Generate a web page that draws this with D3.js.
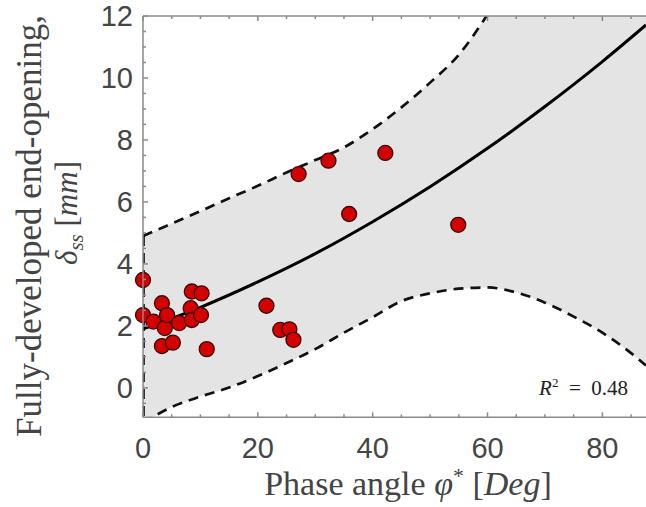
<!DOCTYPE html>
<html><head><meta charset="utf-8">
<script src="https://cdn.jsdelivr.net/npm/d3@7"></script>
<style>body{margin:0;background:#fff}svg{display:block}</style>
</head><body><svg id="c" width="646" height="507"></svg>
<script>
// ---- data ----
const phi   = [0, 0, 1.8, 3.3, 3.8, 4.2, 6.3, 8.3, 8.5, 8.5, 10.1, 10.2, 3.3, 5.2, 11.1, 21.5, 23.9, 25.5, 26.2, 27.1, 32.3, 35.9, 42.2, 54.9];
const delta = [3.48, 2.35, 2.14, 2.73, 1.93, 2.35, 2.09, 2.57, 2.19, 3.11, 2.35, 3.05, 1.35, 1.46, 1.25, 2.65, 1.87, 1.89, 1.55, 6.90, 7.33, 5.61, 7.58, 5.26];
const fitX  = [0, 10, 20, 30, 40, 50, 60, 70, 80, 87.6];
const fitY  = [1.90, 2.60, 3.42, 4.33, 5.36, 6.49, 7.73, 9.08, 10.53, 11.71];
const bandX = [0, 5, 10, 15, 20, 25, 30, 35, 40, 45, 50, 55, 60, 65, 70, 75, 80, 85, 87.6];
const upperY= [4.90, 5.30, 5.70, 6.12, 6.52, 6.95, 7.35, 7.76, 8.35, 9.05, 9.85, 10.75, 12.05, 13.6, 15.4, 17.3, 19.3, 21.5, 22.7];
const lowerY= [-1.13, -0.62, -0.28, 0.01, 0.38, 0.80, 1.25, 1.78, 2.28, 2.80, 3.05, 3.20, 3.24, 3.08, 2.75, 2.30, 1.78, 1.12, 0.72];
const xTicks = [0, 20, 40, 60, 80];
const yTicks = [0, 2, 4, 6, 8, 10, 12];
const r2Text = "0.48";

// ---- layout ----
const L = 143, R = 646, T = 16, B = 417.3;
const x = d3.scaleLinear().domain([0, 87.6]).range([L, R]);
const y = d3.scaleLinear().domain([-0.95, 12]).range([B, T]);
const svg = d3.select("#c");

svg.append("clipPath").attr("id","clip").append("rect")
  .attr("x", L).attr("y", T).attr("width", R - L).attr("height", B - T);
const g = svg.append("g").attr("clip-path","url(#clip)");

const band = bandX.map((v,i)=>({x:v, u:upperY[i], l:lowerY[i]}));
g.append("path").datum(band)
  .attr("d", d3.area().x(d=>x(d.x)).y0(d=>y(d.l)).y1(d=>y(d.u)).curve(d3.curveMonotoneX))
  .attr("fill", "#e4e4e4");

const dash = "10,7";
const dw = 2.7;
const lineU = d3.line().x(d=>x(d.x)).y(d=>y(d.u)).curve(d3.curveMonotoneX);
const lineL = d3.line().x(d=>x(d.x)).y(d=>y(d.l)).curve(d3.curveMonotoneX);
g.append("path").datum(band).attr("d", lineU).attr("fill","none").attr("stroke","#111").attr("stroke-width",dw).attr("stroke-dasharray",dash);
g.append("path").datum(band).attr("d", lineL).attr("fill","none").attr("stroke","#111").attr("stroke-width",dw).attr("stroke-dasharray",dash);
g.append("line").attr("x1", x(bandX[0])+0.5).attr("x2", x(bandX[0])+0.5)
  .attr("y1", y(upperY[0])).attr("y2", y(lowerY[0]))
  .attr("stroke","#111").attr("stroke-width",dw).attr("stroke-dasharray",dash);

const fit = fitX.map((v,i)=>({x:v, y:fitY[i]}));
g.append("path").datum(fit)
  .attr("d", d3.line().x(d=>x(d.x)).y(d=>y(d.y)).curve(d3.curveMonotoneX))
  .attr("fill","none").attr("stroke","#000").attr("stroke-width",3);

// points
svg.append("g").selectAll("circle").data(phi.map((v,i)=>({x:v, y:delta[i]})))
  .join("circle").attr("cx", d=>x(d.x)).attr("cy", d=>y(d.y)).attr("r", 7.5)
  .attr("fill", "#d40000").attr("stroke", "#3a0a0a").attr("stroke-width", 1.3);

// axes box with inward ticks
const ax = svg.append("g").attr("stroke", "#8a8a8a").attr("stroke-width", 1.5).attr("fill","none");
ax.append("line").attr("x1", L).attr("x2", R).attr("y1", T).attr("y2", T);
ax.append("line").attr("x1", L).attr("x2", R).attr("y1", B).attr("y2", B);
ax.append("line").attr("x1", L).attr("x2", L).attr("y1", T).attr("y2", B);
const xMinor = d3.range(0, 88, 5);
xMinor.forEach(v=>{
  const len = v % 20 === 0 ? 5 : 3;
  ax.append("line").attr("x1", x(v)).attr("x2", x(v)).attr("y1", B).attr("y2", B - len);
  ax.append("line").attr("x1", x(v)).attr("x2", x(v)).attr("y1", T).attr("y2", T + len);
});
const yMinor = d3.range(-0.5, 12.01, 0.5);
yMinor.forEach(v=>{
  const len = Math.abs(v % 2) < 1e-9 ? 5 : 3;
  ax.append("line").attr("x1", L).attr("x2", L + len).attr("y1", y(v)).attr("y2", y(v));
});

// tick labels
const tf = "'Liberation Sans', Arial, sans-serif";
svg.append("g").selectAll("text").data(xTicks).join("text")
  .attr("x", d=>x(d)).attr("y", 458).attr("text-anchor","middle")
  .attr("font-family", tf).attr("font-size", 29).attr("fill", "#454545").text(d=>d);
svg.append("g").selectAll("text").data(yTicks).join("text")
  .attr("x", 133).attr("y", d=>y(d)).attr("dy","0.36em").attr("text-anchor","end")
  .attr("font-family", tf).attr("font-size", 29).attr("fill", "#454545").text(d=>d);

// axis titles
const sf = "'Liberation Serif', 'Times New Roman', serif";
const xl = svg.append("text").attr("x", 408).attr("y", 495).attr("text-anchor","middle")
  .attr("font-family", sf).attr("font-size", 34).attr("fill", "#444");
xl.append("tspan").text("Phase angle ");
xl.append("tspan").attr("font-style","italic").text("φ");
xl.append("tspan").attr("font-size", 22).attr("dy", -12).text("*");
xl.append("tspan").attr("dy", 12).text(" [");
xl.append("tspan").attr("font-style","italic").text("Deg");
xl.append("tspan").text("]");

svg.append("text").attr("transform","translate(41,226) rotate(-90)").attr("text-anchor","middle")
  .attr("font-family", sf).attr("font-size", 35).attr("fill", "#444").text("Fully-developed end-opening,");
const yl = svg.append("text").attr("transform","translate(77,213) rotate(-90)").attr("text-anchor","middle")
  .attr("font-family", sf).attr("font-size", 31).attr("fill", "#444");
yl.append("tspan").attr("font-style","italic").text("δ");
yl.append("tspan").attr("font-style","italic").attr("font-size", 21).attr("dy", 6).text("ss");
yl.append("tspan").attr("dy", -6).text(" [");
yl.append("tspan").attr("font-style","italic").text("mm");
yl.append("tspan").text("]");

const rt = svg.append("text").attr("x", 628).attr("y", 395).attr("text-anchor","end")
  .attr("font-family", sf).attr("font-size", 21).attr("fill", "#222");
rt.append("tspan").attr("font-style","italic").text("R");
rt.append("tspan").attr("font-size", 13).attr("dy", -8).text("2");
rt.append("tspan").attr("dy", 8).attr("xml:space","preserve").text("  =  " + r2Text);
</script></body></html>
